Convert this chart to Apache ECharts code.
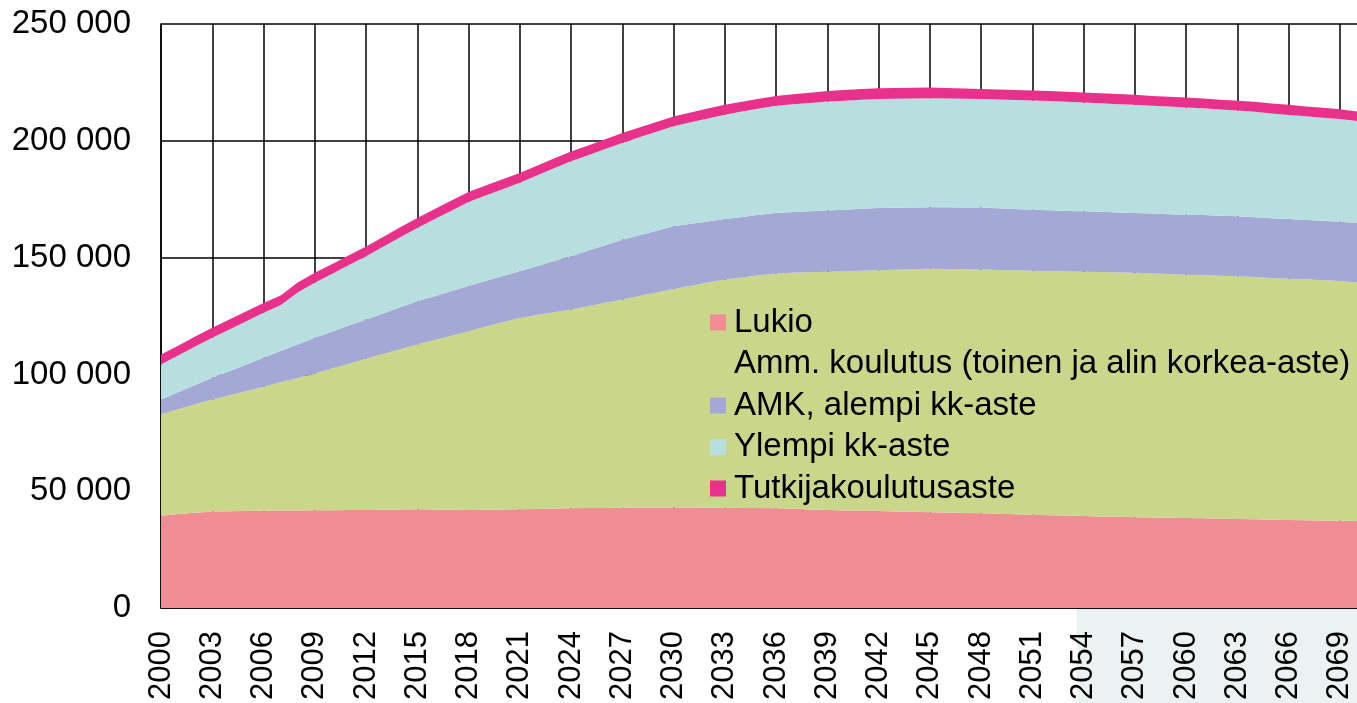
<!DOCTYPE html>
<html>
<head>
<meta charset="utf-8">
<script src="https://cdn.jsdelivr.net/npm/echarts@6/dist/echarts.min.js"></script>
<style>
html,body{margin:0;padding:0;background:#fff;}
#chart{width:1357px;height:703px;}
</style>
</head>
<body>
<div id="chart"></div>
<script>
var years = [];
for (var y = 2000; y <= 2070; y++) years.push(String(y));

var seriesNames = ['Lukio', 'Amm. koulutus (toinen ja alin korkea-aste)', 'AMK, alempi kk-aste', 'Ylempi kk-aste', 'Tutkijakoulutusaste'];

var lukio = [39500,40200,40800,41300,41400,41500,41600,41700,41800,41900,
41900,42000,42000,42100,42200,42300,42200,42100,42000,42100,
42200,42300,42400,42600,42700,42800,42800,42900,43000,43000,
43000,43000,42900,42900,42800,42800,42700,42500,42200,42000,
41800,41700,41500,41300,41200,41000,40900,40700,40600,40400,
40100,39900,39700,39600,39400,39200,39100,38900,38800,38600,
38500,38400,38200,38100,38000,37800,37700,37600,37500,37400,
37300];

var amm = [43400,44900,46400,48000,49700,51400,53100,54900,56700,58500,
60600,62600,64700,66600,68600,70500,72500,74500,76500,78300,
80100,81900,83000,84000,85100,86400,87900,89200,90600,92100,
93600,95000,96400,97700,98700,99600,100500,101000,101500,101900,
102300,102700,103100,103500,103800,104200,104200,104300,104300,104300,
104500,104500,104500,104500,104500,104600,104500,104600,104400,104400,
104200,104100,104000,103900,103700,103500,103300,103100,102800,102600,
102100];

var amk = [6400,7300,8300,9300,10300,11400,12400,13400,14300,15300,
15800,16300,16800,17400,17900,18500,18800,19100,19400,19600,
19800,20000,20900,21900,22800,23800,24600,25600,26000,26400,
26800,26500,26200,25900,25900,25900,25900,26000,26200,26300,
26400,26500,26600,26500,26500,26400,26500,26500,26500,26400,
26200,26100,26100,25900,25900,25800,25700,25600,25700,25600,
25700,25700,25700,25700,25600,25600,25500,25400,25500,25400,
25400];

var ylempi = [15000,15700,16400,17100,17800,18500,19300,19600,22300,23500,
24700,25900,27100,28500,30000,31400,32900,34400,35900,36600,
37200,37800,38800,39700,40600,40800,41200,41400,41900,42400,
42800,43400,44100,44700,45100,45500,45900,46100,46300,46600,
46700,46700,46700,46700,46600,46600,46500,46500,46500,46600,
46700,46800,46700,46700,46600,46500,46400,46300,46100,46100,
45900,45700,45500,45300,45100,44800,44600,44400,44100,43900,
43700];

var tutkija = [4200,4200,4300,4300,4300,4200,4200,4200,4300,4300,
4200,4200,4200,4200,4300,4300,4300,4300,4300,4300,
4200,4200,4200,4200,4200,4200,4200,4200,4200,4200,
4200,4200,4200,4200,4200,4200,4200,4300,4400,4500,
4500,4600,4600,4600,4600,4600,4500,4400,4300,4300,
4300,4200,4300,4300,4300,4300,4300,4300,4200,4200,
4200,4200,4200,4200,4300,4300,4300,4200,4200,4200,
4000];

var colors = ['#f08c93', '#cad68a', '#a4a8d5', '#b7dfe0', '#e8318b'];
var dataSets = [lukio, amm, amk, ylempi, tutkija];

var FONT = '"Liberation Sans", Arial, sans-serif';

var chart = echarts.init(document.getElementById('chart'), null, {renderer: 'canvas'});

var series = dataSets.map(function (d, i) {
  return {
    name: seriesNames[i],
    type: 'line',
    stack: 'total',
    data: d,
    symbol: 'none',
    showSymbol: false,
    lineStyle: {width: 0, color: colors[i]},
    itemStyle: {color: colors[i]},
    areaStyle: {color: colors[i], opacity: 1},
    emphasis: {disabled: true},
    z: 2
  };
});

chart.setOption({
  animation: false,
  backgroundColor: '#ffffff',
  grid: {left: 161, right: 0, top: 24, bottom: 94, containLabel: false},
  legend: {
    orient: 'vertical',
    left: 710,
    top: 306,
    padding: 0,
    itemWidth: 16,
    itemHeight: 16,
    itemGap: 8.5,
    icon: 'rect',
    textStyle: {fontFamily: FONT, fontSize: 33, color: '#000', lineHeight: 33, padding: [0, 0, 0, 3]},
    data: seriesNames
  },
  xAxis: {
    type: 'category',
    data: years,
    boundaryGap: false,
    axisLine: {show: true, lineStyle: {color: '#000', width: 1.5}},
    axisTick: {show: false},
    axisLabel: {interval: 2, rotate: 90, margin: 23, fontFamily: FONT, fontSize: 31, color: '#000'},
    splitLine: {show: true, interval: 2, lineStyle: {color: '#000', width: 1.5}}
  },
  yAxis: {
    type: 'value',
    min: 0,
    max: 250000,
    interval: 50000,
    axisLine: {show: true, lineStyle: {color: '#000', width: 1.5}},
    axisTick: {show: false},
    axisLabel: {
      margin: 30,
      fontFamily: FONT,
      fontSize: 33,
      color: '#000',
      formatter: function (v) { return String(v).replace(/\B(?=(\d{3})+(?!\d))/g, ' '); }
    },
    splitLine: {show: true, lineStyle: {color: '#000', width: 1.5}}
  },
  series: series
});

// forecast-period shading behind the x-axis labels
var x53 = chart.convertToPixel({xAxisIndex: 0}, '2053');
var x54 = chart.convertToPixel({xAxisIndex: 0}, '2054');
var y0 = chart.convertToPixel({yAxisIndex: 0}, 0);
var leftEdge = x53 + 0.6 * (x54 - x53);
chart.setOption({
  graphic: [{
    type: 'rect',
    z: -10,
    silent: true,
    shape: {x: leftEdge, y: y0 + 1, width: 1357 - leftEdge, height: 703 - y0 - 1},
    style: {fill: '#ecf2f2'}
  }]
});
</script>
</body>
</html>
